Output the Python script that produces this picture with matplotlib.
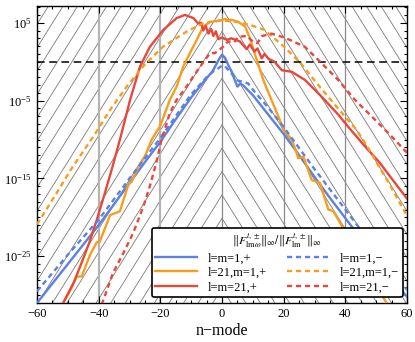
import numpy as np
import matplotlib
matplotlib.use("Agg")
import matplotlib.pyplot as plt
from matplotlib.ticker import FixedLocator, MultipleLocator, LogFormatterSciNotation, NullFormatter

plt.rcParams['font.family'] = ['Liberation Serif', 'DejaVu Serif']
plt.rcParams['mathtext.fontset'] = 'stix'

# log10 values, per series
n_blue_p = [-60, -50, -40, -30, -25, -20, -15, -10, -6, -3, -1, 0, 1, 2, 3, 4, 5, 6, 7, 10, 15, 20, 25, 30, 35, 40, 45, 50, 55, 60]
y_blue_p = [-31, -26, -21, -15.6, -12.9, -10.3, -7.4, -4.6, -2.6, -1.2, 0.3, 0.9, 0.5, -0.4, -1.2, -2.2, -3.2, -2.8, -3.1, -4.3, -6.8, -9.3, -12, -14.8, -17.5, -20.1, -22.7, -25.3, -27.8, -30.2]

n_blue_m = [-60, -50, -40, -30, -20, -10, -5, -3, -1, 0, 1, 3, 5, 8.5, 10, 15, 20, 25, 30, 35, 40, 45, 50, 55, 60]
y_blue_m = [-29.5, -24.8, -20.3, -15.0, -9.8, -4.2, -2.0, -1.3, -0.8, -0.5, -0.6, -1.5, -2.4, -2.8, -3.6, -5.9, -8.4, -11.1, -13.8, -16.4, -19.0, -21.6, -24.2, -26.8, -29.3]

n_orange_p = [-51.5, -49, -47.1, -45.5, -42.8, -40.6, -39.6, -36.3, -34.2, -33.1, -30.4, -29.3, -27.1, -25, -22.8, -20.1, -16.9, -14.7, -12.6, -10.4, -8.2, -6.1, -3.9, -2, -0.1, 1, 2, 3, 5.3, 7.5, 9.1, 11.3, 13.4, 15.6, 18.3, 19.9, 22.6, 24.2, 24.7, 26.4, 29.1, 31.8, 34.5, 36.1, 38.3, 45, 53.4]
y_orange_p = [-31, -29.2, -27.6, -27.6, -24.8, -23.2, -23.1, -19.7, -19.4, -19.2, -15.8, -15.4, -13.5, -12.2, -10, -8.3, -4.9, -3.2, -0.64, 1.1, 2.8, 4.5, 5.1, 5.2, 5.35, 5.5, 5.3, 5.4, 5.1, 4.5, 3.0, 0.2, -2.35, -4.5, -7.05, -8.75, -10, -11.7, -12.4, -12.2, -15.2, -15.6, -19, -19.2, -20.7, -25.5, -31]

n_orange_m = [-60, -54, -48.6, -41.7, -36.3, -30.9, -25.6, -19.2, -11.5, -7.3, -5.6, 0, 5, 10, 13.7, 20.2, 25.5, 30.8, 37.2, 43.7, 47, 50.2, 54, 58.3, 60]
y_orange_m = [-20.9, -17.1, -13.6, -9.6, -6.2, -3.2, -0.6, 1.9, 3.85, 4.7, 5.0, 5.3, 5.1, 4.6, 4.1, 1.9, -0.2, -2.8, -5.8, -8.8, -10.8, -13, -15.5, -18.6, -19.8]

n_red_p = [-51.5, -48, -45.5, -43, -40.6, -38, -35.8, -33.1, -29.8, -26.6, -23.4, -19, -14.7, -12, -9.3, -7.7, -6.8, -6.1, -5.3, -4.4, -3.5, -2.8, -2, -1.2, 0, 1.5, 3, 5.8, 8, 9, 10.5, 11.5, 12.9, 13.8, 15, 17, 19.4, 22.6, 26.9, 32.3, 37.7, 41, 46.4, 51.2, 55, 60]
y_red_p = [-31, -28.3, -25.8, -23.2, -20.3, -16.9, -13.9, -10, -4.9, -0.64, 1.9, 4.1, 5.6, 6.0, 5.6, 4.9, 5.0, 4.0, 4.6, 3.6, 4.2, 3.3, 3.9, 2.9, 3.1, 2.8, 3.0, 2.6, 1.6, 2.2, 1.3, 1.7, 0.43, 1.0, 0.4, 0.0, -1.1, -1.3, -2.35, -4.5, -6.8, -8.4, -10.9, -13.0, -15, -17.6]

n_red_m = [-39, -35.3, -32, -28.8, -25.5, -23.4, -21.2, -19.6, -16.9, -14.7, -11.5, -7.1, -3.9, -2.3, 0, 2, 4, 5.3, 8, 10, 11.5, 13, 16.1, 19.4, 22, 26.9, 32.3, 37.7, 43.1, 48.6, 55, 60]
y_red_m = [-31.2, -27.1, -24.6, -22, -18.6, -16, -12.8, -10, -6.6, -4.9, -3.2, -0.64, 1.1, 1.1, 1.8, 2.6, 2.5, 3.2, 3.3, 2.6, 2.4, 3.3, 3.6, 3.2, 2.8, 1.9, -0.2, -2.35, -4.9, -7.05, -9.6, -11.7]

labels = ['l=m=1,+', 'l=21,m=1,+', 'l=m=21,+', 'l=m=1,\u2212', 'l=21,m=1,\u2212', 'l=m=21,\u2212']
blue, orange, red = '#5b82e3', '#f99d1c', '#e8483b'

fig = plt.figure(figsize=(4.15, 3.42), dpi=100)
ax = fig.add_axes([37/415, 1-303/342, 370/415, 297/342])

# chevron hatching: '/' left of n=0, '\' right of it (steep, ~58 deg)
W = ax.get_position().width * fig.get_figwidth() * fig.dpi
H = ax.get_position().height * fig.get_figheight() * fig.dpi
slope = 1.6
for k in range(-30, 30):
    apex = 14.7 + 23.33*k
    ax.plot([0, 0.5], [(apex - slope*W/2)/H, apex/H], transform=ax.transAxes, color='#7a7a7a', lw=0.6, zorder=0)
    ax.plot([0.5, 1], [apex/H, (apex - slope*W/2)/H], transform=ax.transAxes, color='#7a7a7a', lw=0.6, zorder=0)

for xv in [-40, -20]:
    ax.axvline(xv, color='#b4b4b4', lw=1.6, zorder=1)
for xv in [0, 20, 40]:
    ax.axvline(xv, color='#8a8a8a', lw=0.9, zorder=1)
ax.axhline(1, color='black', lw=1.1, dashes=(5, 3), zorder=2)

dash = (0, (2.2, 1.6))
ax.plot(n_blue_p, 10.0**np.array(y_blue_p), color=blue, lw=1.7, label=labels[0], zorder=3)
ax.plot(n_orange_p, 10.0**np.array(y_orange_p), color=orange, lw=1.7, label=labels[1], zorder=3)
ax.plot(n_red_p, 10.0**np.array(y_red_p), color=red, lw=1.7, label=labels[2], zorder=3)
ax.plot(n_blue_m, 10.0**np.array(y_blue_m), color=blue, lw=1.7, ls=dash, label=labels[3], zorder=3)
ax.plot(n_orange_m, 10.0**np.array(y_orange_m), color=orange, lw=1.7, ls=dash, label=labels[4], zorder=3)
ax.plot(n_red_m, 10.0**np.array(y_red_m), color=red, lw=1.7, ls=dash, label=labels[5], zorder=3)

ax.set_yscale('log')
ax.set_xlim(-60, 60)
ax.set_ylim(1e-31, 10**7.15)
ax.xaxis.set_major_locator(MultipleLocator(20))
ax.xaxis.set_minor_locator(MultipleLocator(5))
ax.yaxis.set_major_locator(FixedLocator([1e5, 1e-5, 1e-15, 1e-25]))
ax.yaxis.set_major_formatter(LogFormatterSciNotation())
ax.yaxis.set_minor_locator(FixedLocator([10.0**p for p in range(-31, 8)]))
ax.yaxis.set_minor_formatter(NullFormatter())
ax.tick_params(which='both', direction='in', top=True, right=True, labelsize=9, width=0.8)
ax.tick_params(which='major', length=5)
ax.tick_params(which='minor', length=2.5)
for s in ax.spines.values():
    s.set_linewidth(1.0)

ax.set_xlabel('n\u2212mode', fontsize=11.5, labelpad=2)

leg = ax.legend(ncol=2, loc='lower right', bbox_to_anchor=(0.988, 0.02), borderaxespad=0,
                title=r'$\Vert F^{t,\pm}_{\mathrm{lm}\omega}\Vert_\infty/\Vert F^{t,\pm}_{\mathrm{lm}}\Vert_\infty$',
                title_fontsize=8.5, fontsize=9, handlelength=3.3, handletextpad=0.9,
                columnspacing=1.6, labelspacing=0.2, borderpad=0.3, fancybox=True, framealpha=1)
leg.get_frame().set_edgecolor('black')
leg.get_frame().set_linewidth(1.2)
leg.set_zorder(5)

fig.savefig('out.png', dpi=100)
